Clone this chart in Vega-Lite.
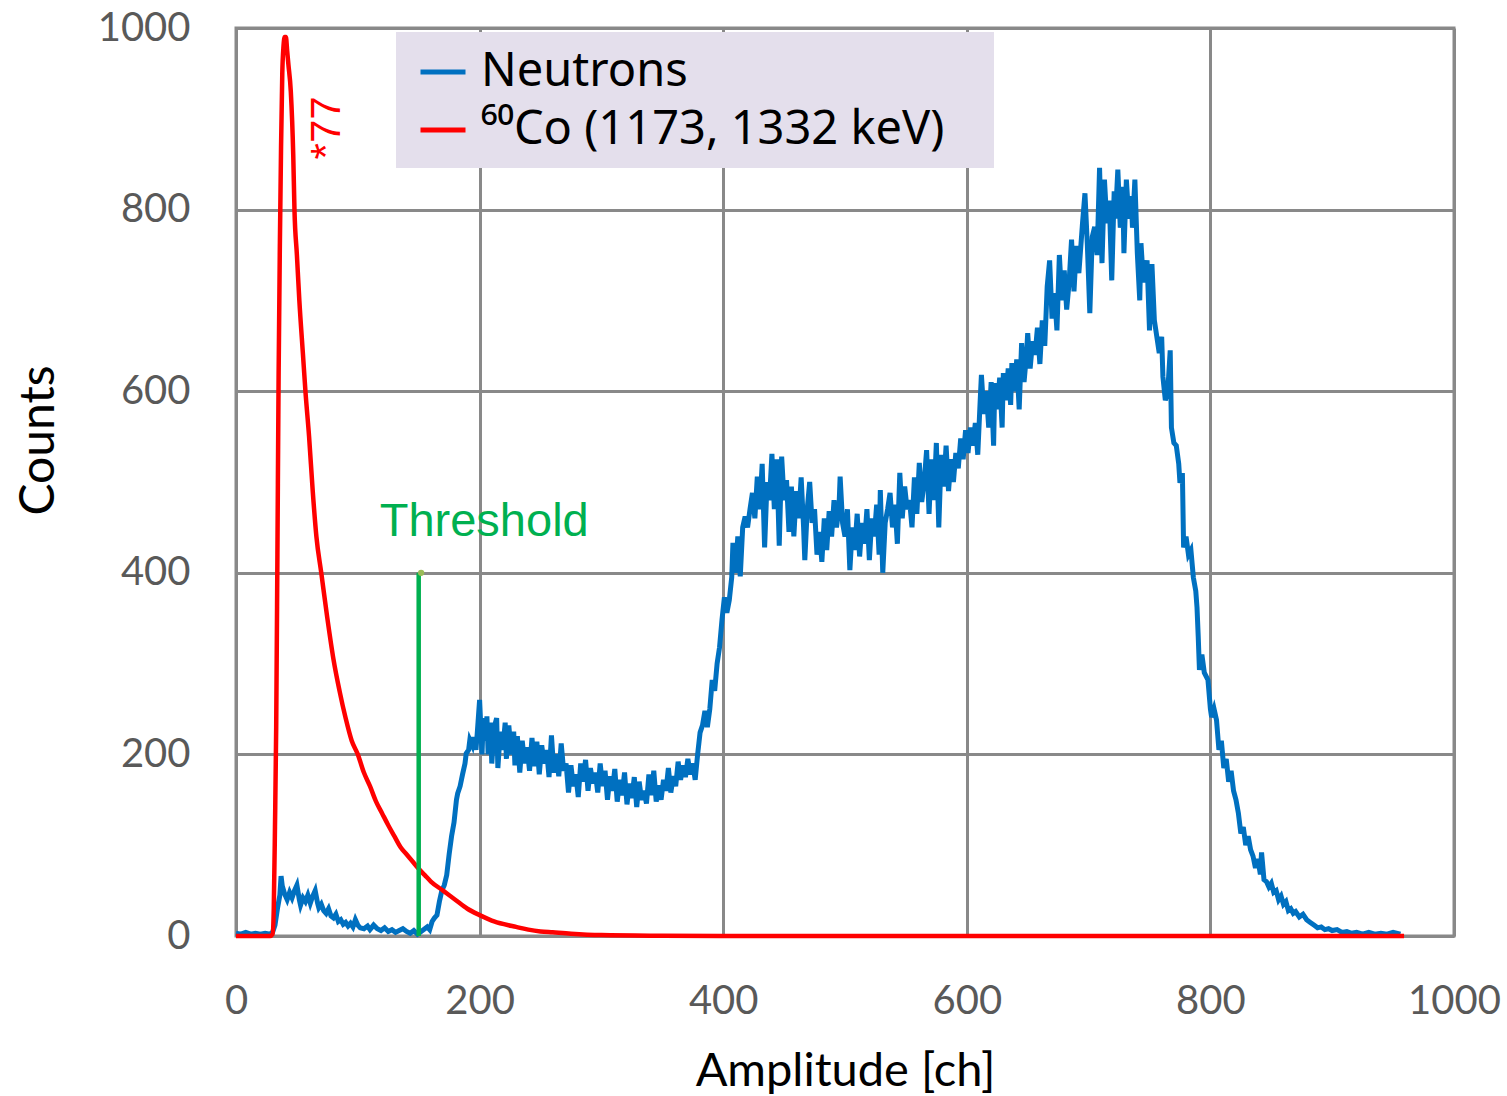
{
  "$schema": "https://vega.github.io/schema/vega-lite/v6.json",
  "width": 1218,
  "height": 908,
  "autosize": "none",
  "padding": {"left": 236, "top": 28, "right": 53, "bottom": 160},
  "background": "white",
  "config": {
    "view": {"stroke": "#898989", "strokeWidth": 3},
    "axis": {
      "grid": true, "gridColor": "#898989", "gridWidth": 3,
      "domain": false, "ticks": false, "labelFlush": false, "labelOverlap": false, "format": "d",
      "labelFont": "Lato", "labelFontSize": 40, "labelColor": "#595959",
      "titleFont": "Lato", "titleFontSize": 47, "titleColor": "#000000", "titleFontWeight": "normal"
    },
    "legend": {
      "orient": "none", "legendX": 160, "legendY": 4,
      "fillColor": "#E4DFEC", "padding": 15,
      "symbolType": "stroke", "symbolSize": 2025, "symbolStrokeWidth": 5, "symbolOffset": 7,
      "labelFont": "Noto Sans", "labelFontSize": 47, "labelColor": "#000000",
      "labelOffset": 13, "labelLimit": 0, "rowPadding": 10, "title": null
    }
  },
  "datasets": {
    "neutrons": [
      {"ch":0,"n":3},{"ch":4,"n":2},{"ch":8,"n":4},{"ch":12,"n":2},{"ch":16,"n":3},{"ch":20,"n":2},{"ch":24,"n":3},{"ch":28,"n":2},
      {"ch":30,"n":4},{"ch":32,"n":12},{"ch":34,"n":30},{"ch":36,"n":45},{"ch":37,"n":66},{"ch":38,"n":55},{"ch":40,"n":46},{"ch":42,"n":40},
      {"ch":44,"n":48},{"ch":46,"n":42},{"ch":48,"n":50},{"ch":50,"n":56},{"ch":52,"n":40},{"ch":53,"n":34},{"ch":55,"n":42},{"ch":57,"n":38},
      {"ch":59,"n":45},{"ch":61,"n":36},{"ch":63,"n":44},{"ch":65,"n":50},{"ch":67,"n":36},{"ch":68,"n":31},{"ch":70,"n":35},{"ch":72,"n":28},
      {"ch":74,"n":25},{"ch":76,"n":30},{"ch":78,"n":22},{"ch":80,"n":20},{"ch":82,"n":24},{"ch":84,"n":16},{"ch":86,"n":18},{"ch":88,"n":13},
      {"ch":90,"n":15},{"ch":92,"n":11},{"ch":94,"n":14},{"ch":96,"n":10},{"ch":98,"n":18},{"ch":100,"n":12},{"ch":102,"n":9},{"ch":105,"n":8},
      {"ch":108,"n":11},{"ch":110,"n":7},{"ch":113,"n":12},{"ch":116,"n":8},{"ch":119,"n":6},{"ch":122,"n":9},{"ch":125,"n":5},{"ch":128,"n":7},
      {"ch":131,"n":4},{"ch":134,"n":6},{"ch":137,"n":8},{"ch":140,"n":5},{"ch":143,"n":3},{"ch":146,"n":6},{"ch":149,"n":2},{"ch":152,"n":5},
      {"ch":155,"n":8},{"ch":157,"n":10},{"ch":159,"n":7},{"ch":161,"n":16},{"ch":163,"n":20},{"ch":165,"n":23},{"ch":167,"n":38},{"ch":169,"n":50},
      {"ch":171,"n":56},{"ch":173,"n":67},{"ch":175,"n":90},{"ch":177,"n":110},{"ch":179,"n":125},{"ch":181,"n":150},{"ch":182,"n":157},{"ch":184,"n":165},
      {"ch":186,"n":178},{"ch":188,"n":190},{"ch":189,"n":201},{"ch":191,"n":205},{"ch":192,"n":216},{"ch":194,"n":210},{"ch":195,"n":219},{"ch":197,"n":205},
      {"ch":198,"n":222},{"ch":200,"n":260},{"ch":201,"n":230},{"ch":202,"n":200},{"ch":203,"n":240},{"ch":205,"n":215},{"ch":206,"n":242},{"ch":207,"n":200},
      {"ch":209,"n":235},{"ch":210,"n":190},{"ch":212,"n":230},{"ch":214,"n":240},{"ch":215,"n":185},{"ch":217,"n":225},{"ch":219,"n":205},{"ch":221,"n":235},
      {"ch":222,"n":195},{"ch":224,"n":232},{"ch":226,"n":200},{"ch":228,"n":225},{"ch":229,"n":188},{"ch":231,"n":220},{"ch":233,"n":180},{"ch":235,"n":215},
      {"ch":237,"n":190},{"ch":239,"n":208},{"ch":241,"n":182},{"ch":243,"n":218},{"ch":245,"n":187},{"ch":247,"n":214},{"ch":249,"n":178},{"ch":251,"n":210},
      {"ch":253,"n":190},{"ch":255,"n":205},{"ch":257,"n":175},{"ch":259,"n":221},{"ch":261,"n":180},{"ch":263,"n":200},{"ch":265,"n":176},{"ch":267,"n":212},
      {"ch":269,"n":182},{"ch":271,"n":190},{"ch":273,"n":158},{"ch":275,"n":188},{"ch":277,"n":165},{"ch":279,"n":178},{"ch":281,"n":153},{"ch":283,"n":190},
      {"ch":285,"n":170},{"ch":287,"n":194},{"ch":289,"n":160},{"ch":291,"n":185},{"ch":293,"n":168},{"ch":295,"n":180},{"ch":297,"n":158},{"ch":299,"n":190},
      {"ch":301,"n":165},{"ch":303,"n":182},{"ch":305,"n":150},{"ch":307,"n":176},{"ch":309,"n":160},{"ch":311,"n":184},{"ch":313,"n":148},{"ch":315,"n":172},
      {"ch":317,"n":155},{"ch":319,"n":180},{"ch":321,"n":145},{"ch":323,"n":168},{"ch":325,"n":152},{"ch":327,"n":175},{"ch":329,"n":142},{"ch":331,"n":170},
      {"ch":333,"n":150},{"ch":335,"n":160},{"ch":337,"n":146},{"ch":339,"n":178},{"ch":341,"n":155},{"ch":343,"n":182},{"ch":345,"n":148},{"ch":347,"n":166},
      {"ch":349,"n":150},{"ch":351,"n":172},{"ch":353,"n":160},{"ch":355,"n":185},{"ch":357,"n":158},{"ch":359,"n":176},{"ch":361,"n":165},{"ch":363,"n":192},
      {"ch":365,"n":172},{"ch":367,"n":188},{"ch":369,"n":175},{"ch":371,"n":195},{"ch":373,"n":178},{"ch":375,"n":190},{"ch":377,"n":172},{"ch":379,"n":200},
      {"ch":381,"n":224},{"ch":383,"n":232},{"ch":385,"n":248},{"ch":387,"n":230},{"ch":389,"n":250},{"ch":391,"n":282},{"ch":393,"n":270},{"ch":395,"n":300},
      {"ch":397,"n":318},{"ch":399,"n":348},{"ch":401,"n":373},{"ch":403,"n":356},{"ch":405,"n":370},{"ch":407,"n":395},{"ch":408,"n":433},{"ch":410,"n":400},
      {"ch":412,"n":440},{"ch":414,"n":396},{"ch":416,"n":450},{"ch":418,"n":462},{"ch":420,"n":450},{"ch":422,"n":470},{"ch":424,"n":488},{"ch":426,"n":460},
      {"ch":428,"n":506},{"ch":430,"n":470},{"ch":432,"n":520},{"ch":434,"n":428},{"ch":436,"n":500},{"ch":438,"n":480},{"ch":440,"n":531},{"ch":442,"n":470},
      {"ch":444,"n":525},{"ch":446,"n":430},{"ch":448,"n":528},{"ch":450,"n":480},{"ch":452,"n":502},{"ch":454,"n":445},{"ch":456,"n":495},{"ch":458,"n":440},
      {"ch":460,"n":490},{"ch":462,"n":460},{"ch":464,"n":505},{"ch":466,"n":450},{"ch":467,"n":414},{"ch":469,"n":470},{"ch":471,"n":500},{"ch":473,"n":455},
      {"ch":475,"n":470},{"ch":477,"n":420},{"ch":479,"n":445},{"ch":481,"n":412},{"ch":483,"n":460},{"ch":485,"n":425},{"ch":487,"n":468},{"ch":489,"n":440},
      {"ch":491,"n":480},{"ch":493,"n":450},{"ch":495,"n":470},{"ch":496,"n":506},{"ch":498,"n":455},{"ch":500,"n":440},{"ch":502,"n":470},{"ch":504,"n":403},
      {"ch":506,"n":450},{"ch":508,"n":425},{"ch":510,"n":465},{"ch":512,"n":418},{"ch":514,"n":455},{"ch":516,"n":432},{"ch":518,"n":470},{"ch":520,"n":414},
      {"ch":522,"n":460},{"ch":524,"n":440},{"ch":526,"n":475},{"ch":528,"n":420},{"ch":529,"n":491},{"ch":531,"n":400},{"ch":533,"n":455},{"ch":535,"n":470},
      {"ch":537,"n":488},{"ch":539,"n":450},{"ch":541,"n":475},{"ch":543,"n":432},{"ch":545,"n":510},{"ch":547,"n":460},{"ch":549,"n":495},{"ch":551,"n":470},
      {"ch":553,"n":480},{"ch":555,"n":450},{"ch":557,"n":505},{"ch":559,"n":465},{"ch":561,"n":521},{"ch":563,"n":478},{"ch":565,"n":500},{"ch":567,"n":535},
      {"ch":569,"n":465},{"ch":571,"n":525},{"ch":573,"n":480},{"ch":575,"n":543},{"ch":577,"n":450},{"ch":579,"n":530},{"ch":581,"n":495},{"ch":583,"n":540},
      {"ch":585,"n":490},{"ch":587,"n":525},{"ch":589,"n":500},{"ch":591,"n":532},{"ch":593,"n":515},{"ch":595,"n":548},{"ch":597,"n":525},{"ch":599,"n":557},
      {"ch":601,"n":532},{"ch":603,"n":560},{"ch":605,"n":540},{"ch":607,"n":565},{"ch":609,"n":530},{"ch":611,"n":590},{"ch":612,"n":618},{"ch":614,"n":575},
      {"ch":616,"n":600},{"ch":618,"n":560},{"ch":620,"n":610},{"ch":622,"n":540},{"ch":623,"n":609},{"ch":625,"n":580},{"ch":627,"n":615},{"ch":629,"n":560},
      {"ch":630,"n":620},{"ch":632,"n":590},{"ch":634,"n":625},{"ch":636,"n":585},{"ch":637,"n":631},{"ch":639,"n":600},{"ch":641,"n":635},{"ch":643,"n":580},
      {"ch":645,"n":653},{"ch":647,"n":610},{"ch":649,"n":640},{"ch":650,"n":664},{"ch":652,"n":625},{"ch":654,"n":655},{"ch":656,"n":640},{"ch":658,"n":670},
      {"ch":660,"n":630},{"ch":662,"n":678},{"ch":664,"n":650},{"ch":666,"n":715},{"ch":668,"n":744},{"ch":670,"n":680},{"ch":672,"n":708},{"ch":674,"n":667},
      {"ch":676,"n":750},{"ch":678,"n":700},{"ch":680,"n":733},{"ch":682,"n":690},{"ch":684,"n":720},{"ch":686,"n":767},{"ch":688,"n":710},{"ch":690,"n":760},
      {"ch":692,"n":730},{"ch":695,"n":785},{"ch":697,"n":818},{"ch":699,"n":760},{"ch":701,"n":686},{"ch":703,"n":770},{"ch":705,"n":781},{"ch":707,"n":750},
      {"ch":709,"n":846},{"ch":711,"n":741},{"ch":713,"n":833},{"ch":715,"n":785},{"ch":717,"n":810},{"ch":719,"n":722},{"ch":721,"n":820},{"ch":722,"n":790},
      {"ch":724,"n":844},{"ch":726,"n":780},{"ch":728,"n":825},{"ch":729,"n":752},{"ch":731,"n":833},{"ch":733,"n":790},{"ch":735,"n":815},{"ch":736,"n":780},
      {"ch":738,"n":833},{"ch":740,"n":752},{"ch":742,"n":700},{"ch":743,"n":763},{"ch":745,"n":720},{"ch":748,"n":744},{"ch":750,"n":667},{"ch":752,"n":740},
      {"ch":754,"n":678},{"ch":756,"n":660},{"ch":758,"n":642},{"ch":760,"n":660},{"ch":761,"n":616},{"ch":763,"n":590},{"ch":765,"n":600},{"ch":767,"n":645},
      {"ch":768,"n":560},{"ch":770,"n":543},{"ch":772,"n":540},{"ch":774,"n":520},{"ch":775,"n":499},{"ch":777,"n":510},{"ch":778,"n":428},{"ch":780,"n":440},
      {"ch":782,"n":420},{"ch":784,"n":425},{"ch":786,"n":395},{"ch":788,"n":380},{"ch":789,"n":362},{"ch":790,"n":330},{"ch":791,"n":293},{"ch":793,"n":310},
      {"ch":795,"n":290},{"ch":798,"n":282},{"ch":800,"n":250},{"ch":801,"n":241},{"ch":803,"n":250},{"ch":805,"n":238},{"ch":807,"n":205},{"ch":809,"n":215},
      {"ch":811,"n":185},{"ch":813,"n":195},{"ch":815,"n":170},{"ch":817,"n":182},{"ch":819,"n":160},{"ch":821,"n":150},{"ch":823,"n":135},{"ch":825,"n":113},
      {"ch":827,"n":120},{"ch":829,"n":100},{"ch":831,"n":110},{"ch":833,"n":95},{"ch":835,"n":88},{"ch":837,"n":75},{"ch":839,"n":85},{"ch":841,"n":68},
      {"ch":842,"n":92},{"ch":844,"n":62},{"ch":846,"n":60},{"ch":848,"n":54},{"ch":850,"n":58},{"ch":852,"n":48},{"ch":854,"n":50},{"ch":856,"n":40},
      {"ch":858,"n":44},{"ch":860,"n":35},{"ch":862,"n":38},{"ch":864,"n":28},{"ch":866,"n":30},{"ch":868,"n":25},{"ch":870,"n":27},{"ch":873,"n":21},
      {"ch":876,"n":24},{"ch":879,"n":18},{"ch":882,"n":15},{"ch":885,"n":12},{"ch":888,"n":9},{"ch":891,"n":10},{"ch":894,"n":7},{"ch":897,"n":8},
      {"ch":900,"n":6},{"ch":904,"n":7},{"ch":908,"n":4},{"ch":912,"n":5},{"ch":916,"n":3},{"ch":920,"n":4},{"ch":925,"n":2},{"ch":930,"n":4},
      {"ch":935,"n":2},{"ch":940,"n":3},{"ch":945,"n":2},{"ch":950,"n":4},{"ch":956,"n":2}
    ],
    "cobalt": [
      {"ch":0,"n":0},{"ch":10,"n":0},{"ch":20,"n":0},{"ch":28,"n":0},{"ch":30,"n":2},{"ch":31,"n":30},{"ch":32,"n":120},{"ch":33,"n":230},
      {"ch":34,"n":420},{"ch":35,"n":620},{"ch":36,"n":760},{"ch":37,"n":870},{"ch":38,"n":950},{"ch":39,"n":980},{"ch":40,"n":990},{"ch":41,"n":990},
      {"ch":42,"n":975},{"ch":43,"n":960},{"ch":45,"n":930},{"ch":47,"n":860},{"ch":48,"n":800},{"ch":50,"n":750},{"ch":52,"n":700},{"ch":55,"n":640},
      {"ch":57,"n":600},{"ch":60,"n":550},{"ch":63,"n":490},{"ch":66,"n":440},{"ch":70,"n":400},{"ch":75,"n":350},{"ch":80,"n":305},{"ch":85,"n":270},
      {"ch":90,"n":240},{"ch":95,"n":215},{"ch":100,"n":200},{"ch":105,"n":180},{"ch":110,"n":165},{"ch":115,"n":148},{"ch":120,"n":135},{"ch":125,"n":122},
      {"ch":130,"n":110},{"ch":135,"n":98},{"ch":140,"n":90},{"ch":145,"n":82},{"ch":150,"n":74},{"ch":155,"n":67},{"ch":160,"n":60},{"ch":170,"n":50},
      {"ch":180,"n":40},{"ch":190,"n":30},{"ch":200,"n":23},{"ch":210,"n":17},{"ch":220,"n":13},{"ch":230,"n":10},{"ch":240,"n":7},{"ch":250,"n":5},
      {"ch":260,"n":4},{"ch":275,"n":2.5},{"ch":300,"n":1},{"ch":350,"n":0.3},{"ch":400,"n":0},{"ch":500,"n":0},{"ch":600,"n":0},{"ch":700,"n":0},
      {"ch":800,"n":0},{"ch":900,"n":0},{"ch":959,"n":0}
    ],
    "threshold": [{"ch":150,"lo":0,"hi":400,"dot":152}],
    "notes": [
      {"ch":118,"n":456,"label":"Threshold","kind":"threshold"},
      {"ch":75,"n":890,"label":"*77","kind":"scale"}
    ]
  },
  "layer": [
    {
      "data": {"name": "neutrons"},
      "mark": {"type": "line", "strokeWidth": 5, "interpolate": "linear"},
      "encoding": {
        "x": {"field": "ch", "type": "quantitative", "scale": {"domain": [0, 1000], "nice": false},
              "axis": {"values": [0, 200, 400, 600, 800, 1000], "title": "Amplitude [ch]", "labelPadding": 45, "titlePadding": 27}},
        "y": {"field": "n", "type": "quantitative", "scale": {"domain": [0, 1000], "nice": false},
              "axis": {"values": [0, 200, 400, 600, 800, 1000], "title": "Counts", "labelPadding": 46, "titlePadding": 34, "titleFontSize": 48, "titleY": 412}},
        "color": {"datum": "Neutrons", "type": "nominal",
                  "scale": {"domain": ["Neutrons", "⁶⁰Co (1173, 1332 keV)"], "range": ["#0070C0", "#FF0000"]},
                  "legend": {"labelExpr": "datum.label + '\u2800'"}}
      }
    },
    {
      "data": {"name": "cobalt"},
      "mark": {"type": "line", "strokeWidth": 4.5, "interpolate": "monotone"},
      "encoding": {
        "x": {"field": "ch", "type": "quantitative"},
        "y": {"field": "n", "type": "quantitative"},
        "color": {"datum": "⁶⁰Co (1173, 1332 keV)", "type": "nominal"}
      }
    },
    {
      "data": {"name": "threshold"},
      "mark": {"type": "rule", "color": "#00B050", "strokeWidth": 4.5},
      "encoding": {
        "x": {"field": "ch", "type": "quantitative"},
        "y": {"field": "lo", "type": "quantitative"},
        "y2": {"field": "hi"}
      }
    },
    {
      "data": {"name": "threshold"},
      "mark": {"type": "point", "filled": true, "color": "#9BBB59", "size": 40, "opacity": 1},
      "encoding": {
        "x": {"field": "dot", "type": "quantitative"},
        "y": {"field": "hi", "type": "quantitative"}
      }
    },
    {
      "data": {"name": "notes"},
      "transform": [{"filter": "datum.kind === 'threshold'"}],
      "mark": {"type": "text", "font": "Liberation Sans", "fontSize": 47, "color": "#00B050", "align": "left", "baseline": "middle"},
      "encoding": {
        "x": {"field": "ch", "type": "quantitative"},
        "y": {"field": "n", "type": "quantitative"},
        "text": {"field": "label"}
      }
    },
    {
      "data": {"name": "notes"},
      "transform": [{"filter": "datum.kind === 'scale'"}],
      "mark": {"type": "text", "font": "Liberation Sans", "fontSize": 42, "color": "#FF0000", "align": "center", "baseline": "middle", "angle": 270},
      "encoding": {
        "x": {"field": "ch", "type": "quantitative"},
        "y": {"field": "n", "type": "quantitative"},
        "text": {"field": "label"}
      }
    }
  ]
}
